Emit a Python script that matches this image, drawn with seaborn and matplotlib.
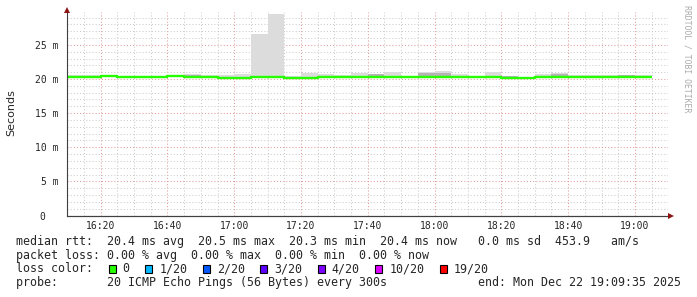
import matplotlib
matplotlib.use("Agg")
import matplotlib.pyplot as plt
import pandas as pd
import seaborn as sns
from matplotlib.patches import Rectangle
from matplotlib.transforms import ScaledTranslation

# ---------------- data ----------------
step_times = ["16:10", "16:15", "16:20", "16:25", "16:30", "16:35", "16:40", "16:45",
              "16:50", "16:55", "17:00", "17:05", "17:10", "17:15", "17:20", "17:25",
              "17:30", "17:35", "17:40", "17:45", "17:50", "17:55", "18:00", "18:05",
              "18:10", "18:15", "18:20", "18:25", "18:30", "18:35", "18:40", "18:45",
              "18:50", "18:55", "19:00"]
last_step_end = "19:05"
window_start = "16:10"
window_end = "19:10"

median_ms = [20.32, 20.32, 20.45, 20.32, 20.32, 20.32, 20.38, 20.32,
             20.32, 20.18, 20.18, 20.27, 20.27, 20.18, 20.18, 20.32,
             20.32, 20.32, 20.32, 20.32, 20.32, 20.32, 20.30, 20.32,
             20.32, 20.32, 20.22, 20.18, 20.32, 20.32, 20.32, 20.32,
             20.32, 20.32, 20.32]
smoke_lo_ms = [20.20, 20.20, 20.30, 20.20, 20.20, 20.20, 20.25, 20.20,
               20.20, 20.05, 20.05, 20.15, 20.15, 20.05, 20.05, 20.20,
               20.20, 20.20, 20.20, 20.20, 20.20, 20.20, 20.20, 20.20,
               20.20, 20.20, 20.10, 20.05, 20.20, 20.20, 20.20, 20.20,
               20.20, 20.20, 20.20]
smoke_dark_ms = [20.40, 20.45, 20.55, 20.40, 20.40, 20.40, 20.60, 20.55,
                 20.40, 20.30, 20.35, 20.45, 20.45, 20.30, 20.35, 20.45,
                 20.45, 20.45, 20.75, 20.45, 20.40, 20.85, 20.95, 20.45,
                 20.40, 20.45, 20.50, 20.30, 20.45, 20.78, 20.50, 20.45,
                 20.45, 20.55, 20.50]
smoke_hi_ms = [20.55, 20.65, 20.65, 20.42, 20.42, 20.50, 20.62, 20.75,
               20.55, 20.55, 20.75, 26.65, 29.50, 20.45, 20.95, 20.70,
               20.60, 20.95, 20.78, 21.05, 20.42, 21.05, 21.15, 20.75,
               20.42, 21.05, 20.50, 20.30, 20.70, 20.85, 20.66, 20.60,
               20.60, 20.66, 20.63]

x_tick_labels = ["16:20", "16:40", "17:00", "17:20", "17:40", "18:00", "18:20", "18:40", "19:00"]
y_tick_values = [0, 5, 10, 15, 20, 25]
y_tick_labels = ["0", "5 m", "10 m", "15 m", "20 m", "25 m"]
y_top = 29.85

loss_labels = ["0", "1/20", "2/20", "3/20", "4/20", "10/20", "19/20"]
loss_colors = ["#26ff00", "#00b8ff", "#0059ff", "#5e00ff", "#7e00ff", "#dd00ff", "#ff0000"]

line_rtt = "median rtt:  20.4 ms avg  20.5 ms max  20.3 ms min  20.4 ms now   0.0 ms sd  453.9   am/s"
line_loss = "packet loss: 0.00 % avg  0.00 % max  0.00 % min  0.00 % now"
line_color = "loss color:"
line_probe = "probe:       20 ICMP Echo Pings (56 Bytes) every 300s"
line_end = "end: Mon Dec 22 19:09:35 2025"
y_title = "Seconds"
watermark = "RRDTOOL / TOBI OETIKER"


def to_min(s):
    h, m = s.split(":")
    return int(h) * 60 + int(m)


def ext(a):
    return list(a) + [a[-1]]


# ---------------- figure ----------------
sns.set_style("white")
plt.rcParams["font.family"] = ["DejaVu Sans"]
MONO = "DejaVu Sans Mono"

W, H = 697, 297
fig = plt.figure(figsize=(W / 100, H / 100), dpi=100)
fig.patch.set_facecolor("white")

ax_left, ax_right, ax_bottom, ax_top = 67.25, 668.3, 215.5, 11.8
ax = fig.add_axes([ax_left / W, (H - ax_bottom) / H, (ax_right - ax_left) / W, (ax_bottom - ax_top) / H])
ax.set_facecolor("white")

x = [to_min(t) for t in step_times] + [to_min(last_step_end)]

ax.fill_between(x, ext(smoke_lo_ms), ext(smoke_hi_ms), step="post", color="#dcdcdc", lw=0, zorder=2)
ax.fill_between(x, ext(smoke_lo_ms), ext(smoke_dark_ms), step="post", color="#b4b4b4", lw=0, zorder=2.1)

df = pd.DataFrame({"t": x, "ms": ext(median_ms)})
sns.lineplot(data=df, x="t", y="ms", drawstyle="steps-post", color=loss_colors[0],
             lw=1.7, ax=ax, zorder=3, estimator=None, solid_capstyle="butt")

ax.set_xlim(to_min(window_start), to_min(window_end))
ax.set_ylim(0, y_top)

ax.set_xticks([to_min(t) for t in x_tick_labels])
ax.set_xticklabels(x_tick_labels, family=MONO, fontsize=7)
ax.set_xticks(list(range(to_min(window_start), to_min(window_end) + 1, 5)), minor=True)
ax.set_yticks(y_tick_values)
ax.set_yticklabels(y_tick_labels, family=MONO, fontsize=7)
ax.set_yticks(list(range(0, int(y_top) + 1)), minor=True)
ax.set_xlabel("")
ax.set_ylabel("")

ax.set_axisbelow(True)
ax.grid(which="minor", color="#cccccc", linestyle=(0, (1, 2)), lw=0.75)
ax.grid(which="major", color="#e49a9a", linestyle=(0, (1, 2)), lw=0.75)

ax.tick_params(which="major", direction="inout", length=4, width=0.75, color="#505050", pad=2)
ax.tick_params(which="minor", direction="inout", length=2.5, width=0.6, color="#808080")
ax.tick_params(axis="y", which="major", pad=4.5)

# shift the bare "0" label so its digit lines up with the "5" of "5 m"
zero_lbl = ax.get_yticklabels()[0]
zero_lbl.set_transform(zero_lbl.get_transform() + ScaledTranslation(-12.5 / 72 * 0.72, 0, fig.dpi_scale_trans))

for s in ["top", "right"]:
    ax.spines[s].set_visible(False)
for s in ["left", "bottom"]:
    ax.spines[s].set_color("#404040")
    ax.spines[s].set_linewidth(0.8)
    ax.spines[s].set_zorder(4)

arrow_c = "#8b1414"
ax.plot([0], [1.0 + 1.5 / (ax_bottom - ax_top)], marker="^", ms=4.5, color=arrow_c,
        transform=ax.transAxes, clip_on=False, zorder=5, mew=0)
ax.plot([0, 1.0 + 2 / (ax_right - ax_left)], [0, 0], color="#404040", lw=0.8,
        transform=ax.transAxes, clip_on=False, zorder=4)
ax.plot([1.0 + 3 / (ax_right - ax_left)], [0], marker=">", ms=4.5, color=arrow_c,
        transform=ax.transAxes, clip_on=False, zorder=5, mew=0)

# axis title and watermark
fig.text(11 / W, 1 - 113 / H, y_title, rotation=90, ha="center", va="center", fontsize=8)
fig.text(686.5 / W, 1 - 5 / H, watermark, rotation=-90, ha="center", va="top",
         family=MONO, fontsize=5.9, color="#aaaaaa")

# legend block
CW = 7.02
X0 = 16
fs = 8.4
fig.text(X0 / W, 1 - 245.0 / H, line_rtt, family=MONO, fontsize=fs, va="baseline")
fig.text(X0 / W, 1 - 258.7 / H, line_loss, family=MONO, fontsize=fs, va="baseline")
fig.text(X0 / W, 1 - 272.4 / H, line_color, family=MONO, fontsize=fs, va="baseline")
fig.text(X0 / W, 1 - 286.0 / H, line_probe, family=MONO, fontsize=fs, va="baseline")
fig.text(681 / W, 1 - 286.0 / H, line_end, family=MONO, fontsize=fs, va="baseline", ha="right")

col = 13.2
for lab, c in zip(loss_labels, loss_colors):
    bx = X0 + col * CW
    fig.add_artist(Rectangle((bx / W, 1 - 273.3 / H), 7.0 / W, 8.3 / H, transform=fig.transFigure,
                             facecolor=c, edgecolor="black", lw=0.8))
    fig.text((X0 + (col + 2) * CW) / W, 1 - 272.4 / H, lab, family=MONO, fontsize=fs, va="baseline")
    col = col + 2 + len(lab) + 2.2

fig.savefig("out.png", dpi=100, facecolor="white")
